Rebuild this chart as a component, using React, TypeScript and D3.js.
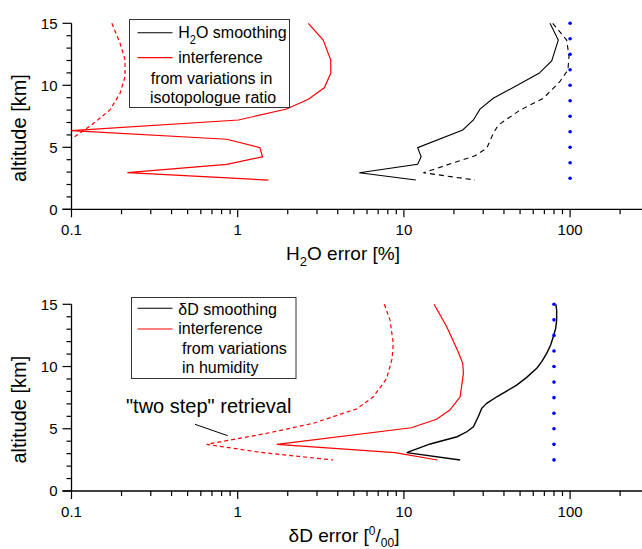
import React from "react";
import * as d3 from "d3";

// ---------- data: [error value, altitude km] ----------
const topSmoothSolid: [number, number][] = [
  [75.7, 15], [84.9, 13.65], [77.5, 11.96], [65, 10.97], [34.5, 8.95], [28.7, 8.08],
  [26.2, 7.2], [22.6, 6.4], [12.1, 4.97], [12.7, 4.24], [12.1, 3.63], [5.39, 2.95], [11.8, 2.36],
];
const topSmoothDashed: [number, number][] = [
  [78.6, 15], [95.4, 13.65], [98.5, 12.3], [97, 11.23], [86.7, 10.29], [69, 8.95], [50, 8.0],
  [37, 6.8], [34.5, 6.13], [31.5, 4.92], [26.8, 4.32], [13.1, 2.95], [26.8, 2.36],
];
const topInterfSolid: [number, number][] = [
  [2.66, 15], [3.27, 13.65], [3.63, 12.04], [3.63, 10.97], [3.32, 9.8], [2.66, 8.87],
  [1.97, 8.09], [1.01, 7.2], [0.1, 6.35], [0.86, 5.65], [1.36, 4.97], [1.41, 4.24],
  [0.86, 3.63], [0.217, 2.95], [1.53, 2.36],
];
const topInterfDashed: [number, number][] = [
  [0.175, 15], [0.196, 13.39], [0.21, 12.04], [0.21, 10.7], [0.196, 9.35], [0.17, 8.0],
  [0.132, 6.8], [0.102, 5.75],
];
const botSmoothSolid: [number, number][] = [
  [82.2, 15], [83, 14.54], [83, 13.73], [81.9, 13.07], [79.2, 12.39], [76.4, 11.73],
  [72.3, 11.06], [67.5, 10.39], [63, 9.86], [54.8, 9.13], [47.7, 8.51], [41.5, 8.03],
  [36.2, 7.57], [31.5, 7.04], [29.4, 6.64], [28, 5.97], [26.2, 5.16], [23.9, 4.76],
  [20.9, 4.36], [14.4, 3.78], [10.4, 3.08], [21.8, 2.49],
];
const botInterfSolid: [number, number][] = [
  [15.2, 15], [18.1, 13.2], [21.2, 11.19], [22.6, 10.26], [22.8, 9.45], [21.8, 7.57],
  [18.9, 6.5], [15.7, 5.76], [11.1, 5.08], [1.72, 3.75], [8.84, 3.08], [15.9, 2.49],
];
const botInterfDashed: [number, number][] = [
  [7.62, 15], [8.25, 13.73], [8.63, 11.86], [8.5, 10.66], [7.88, 9.05], [6.55, 7.57],
  [5.2, 6.6], [2.85, 5.44], [1.49, 4.63], [0.651, 3.75], [1.36, 3.11], [3.76, 2.49],
];
const dotAltitudes = [2.5, 3.75, 5, 6.25, 7.5, 8.75, 10, 11.25, 12.5, 13.75, 15];
const topDotValue = 100;
const botDotValue = 80;

const xMajorTicks = [0.1, 1, 10, 100];
const xTickLabels = ["0.1", "1", "10", "100"];
const xMinorTicks = [0.2, 0.3, 0.4, 0.5, 0.6, 0.7, 0.8, 0.9, 2, 3, 4, 5, 6, 7, 8, 9, 20, 30, 40, 50, 60, 70, 80, 90, 200];
const yMajorTicks = [0, 5, 10, 15];
const yMinorTicks = [1, 2, 3, 4, 6, 7, 8, 9, 11, 12, 13, 14];

const FONT = "'Liberation Sans', Arial, sans-serif";
const RED = "#ff0000";

const x = d3.scaleLog().domain([0.1, 300]).range([71.5, 71.5 + 166.2 * Math.log10(3000)]);

function LT({ x: tx, y: ty, children }: { x: number; y: number; children: React.ReactNode }) {
  return (
    <g transform={`translate(${tx},${ty}) scale(1,1.08)`}>
      <text x={0} y={0} fontSize={16} fontFamily={FONT}>{children}</text>
    </g>
  );
}

function Panel({ y0, y15, children }: { y0: number; y15: number; children: (y: d3.ScaleLinear<number, number>) => React.ReactNode }) {
  const y = d3.scaleLinear().domain([0, 15]).range([y0, y15]);
  const x0 = x(0.1);
  return (
    <g>
      <line x1={x0} x2={x0} y1={y(0)} y2={y(15)} stroke="#000" strokeWidth={1.3} />
      {yMajorTicks.map((t) => (
        <g key={"ym" + t}>
          <line x1={x0 - 9} x2={x0} y1={y(t)} y2={y(t)} stroke="#000" strokeWidth={1.2} />
          <text x={x0 - 14} y={y(t)} dy="0.36em" textAnchor="end" fontSize={15} fontFamily={FONT}>{t}</text>
        </g>
      ))}
      {yMinorTicks.map((t) => (
        <line key={"yn" + t} x1={x0 - 5} x2={x0} y1={y(t)} y2={y(t)} stroke="#000" strokeWidth={1.2} />
      ))}
      <line x1={x0 - 9} x2={660} y1={y(0)} y2={y(0)} stroke="#000" strokeWidth={1.3} />
      {xMajorTicks.map((t, i) => (
        <g key={"xm" + t}>
          <line x1={x(t)} x2={x(t)} y1={y(0)} y2={y(0) + 8} stroke="#000" strokeWidth={1.2} />
          <text x={x(t)} y={y(0) + 26} textAnchor="middle" fontSize={15} fontFamily={FONT}>{xTickLabels[i]}</text>
        </g>
      ))}
      {xMinorTicks.map((t) => (
        <line key={"xn" + t} x1={x(t)} x2={x(t)} y1={y(0)} y2={y(0) + 5} stroke="#000" strokeWidth={1.2} />
      ))}
      <text transform={`translate(26,${y(0) - 81.3}) rotate(-90)`} textAnchor="middle" fontSize={20} fontFamily={FONT}>altitude [km]</text>
      {children(y)}
    </g>
  );
}

function curve(data: [number, number][], y: d3.ScaleLinear<number, number>) {
  return d3.line<[number, number]>().x((d) => x(d[0])).y((d) => y(d[1]))(data) || "";
}

export default function App() {
  return (
    <svg width={642} height={549} style={{ position: "absolute", left: 0, top: 0, background: "#fff" }}>
      <rect width={642} height={549} fill="#fff" />
      <Panel y0={209.3} y15={23.3}>
        {(y) => (
          <g>
            <path d={curve(topInterfDashed, y)} fill="none" stroke={RED} strokeWidth={1.2} strokeDasharray="4,3" />
            <path d={curve(topInterfSolid, y)} fill="none" stroke={RED} strokeWidth={1.2} />
            <path d={curve(topSmoothDashed, y)} fill="none" stroke="#000" strokeWidth={1.1} strokeDasharray="5,4" />
            <path d={curve(topSmoothSolid, y)} fill="none" stroke="#000" strokeWidth={1.1} />
            {dotAltitudes.map((a) => (
              <circle key={a} cx={x(topDotValue)} cy={y(a)} r={1.8} fill="#0000ff" />
            ))}
            <rect x={129.5} y={19.5} width={160} height={88} fill="#fff" stroke="#333" strokeWidth={1} />
            <line x1={137.5} x2={172.5} y1={32.7} y2={32.7} stroke="#000" strokeWidth={1.1} />
            <line x1={137.5} x2={172.5} y1={57.7} y2={57.7} stroke={RED} strokeWidth={1.2} />
            <LT x={178.3} y={38.3}>
              H<tspan dy={5} fontSize={11}>2</tspan><tspan dy={-5}>O smoothing</tspan>
            </LT>
            <LT x={178.3} y={63.3}>interference</LT>
            <LT x={150.7} y={84}>from variations in</LT>
            <LT x={150} y={102.7}>isotopologue ratio</LT>
          </g>
        )}
      </Panel>
      <text x={343} y={260} textAnchor="middle" fontSize={19} fontFamily={FONT}>
        H<tspan dy={6} fontSize={13}>2</tspan><tspan dy={-6}>O error [%]</tspan>
      </text>

      <Panel y0={491} y15={304.3}>
        {(y) => (
          <g>
            <path d={curve(botInterfDashed, y)} fill="none" stroke={RED} strokeWidth={1.2} strokeDasharray="4,3" />
            <path d={curve(botInterfSolid, y)} fill="none" stroke={RED} strokeWidth={1.2} />
            <path d={curve(botSmoothSolid, y)} fill="none" stroke="#000" strokeWidth={1.4} />
            {dotAltitudes.map((a) => (
              <circle key={a} cx={x(botDotValue)} cy={y(a)} r={1.8} fill="#0000ff" />
            ))}
            <rect x={131.5} y={297.5} width={164.5} height={81} fill="#fff" stroke="#333" strokeWidth={1} />
            <line x1={137.5} x2={172.5} y1={308.3} y2={308.3} stroke="#000" strokeWidth={1.1} />
            <line x1={137.5} x2={172.5} y1={329} y2={329} stroke={RED} strokeWidth={1.2} />
            <LT x={178.3} y={315}>δD smoothing</LT>
            <LT x={178.3} y={334.3}>interference</LT>
            <LT x={182} y={354.3}>from variations</LT>
            <LT x={182} y={373.3}>in humidity</LT>
            <text x={126} y={413.3} fontSize={20} fontFamily={FONT}>"two step" retrieval</text>
            <line x1={195} y1={424.3} x2={227.7} y2={435.7} stroke="#000" strokeWidth={1} />
          </g>
        )}
      </Panel>
      <text x={344} y={542} textAnchor="middle" fontSize={19} fontFamily={FONT}>
        δD error [<tspan dy={-7} fontSize={12}>0</tspan><tspan dy={7}>/</tspan><tspan dy={5} fontSize={12}>00</tspan><tspan dy={-5}>]</tspan>
      </text>
    </svg>
  );
}
